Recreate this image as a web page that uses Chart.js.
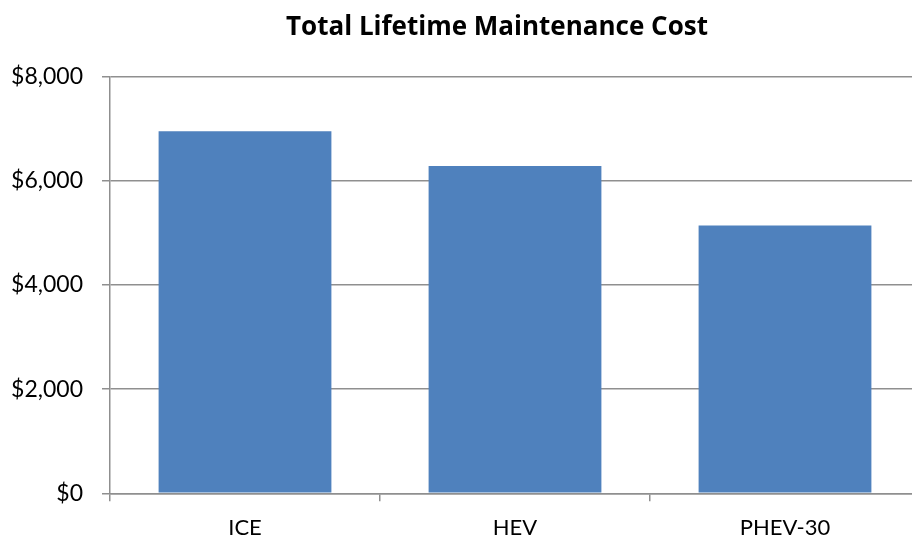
<!DOCTYPE html>
<html>
<head>
<meta charset="utf-8">
<script src="https://cdn.jsdelivr.net/npm/chart.js@4.4.1/dist/chart.umd.min.js"></script>
<style>
html,body{margin:0;padding:0;background:#fff;overflow:hidden;}
#wrap{position:absolute;left:0;top:0;width:994px;height:537px;}
#wrap canvas{display:block;}
</style>
</head>
<body>
<div id="wrap"><canvas id="c"></canvas></div>
<script>
const categories = ["ICE", "HEV", "PHEV-30"];
const maintenanceCost = [6955, 6285, 5145];
const yTickValues = [0, 2000, 4000, 6000, 8000];
const chartTitle = "Total Lifetime Maintenance Cost";

const FONT = "Lato, 'Open Sans', sans-serif";
const TITLE_FONT = "'Open Sans', Lato, sans-serif";
const gridColor = "#8f8f8f";

new Chart(document.getElementById("c"), {
  type: "bar",
  data: {
    labels: categories,
    datasets: [{
      data: maintenanceCost,
      backgroundColor: "#4F81BD",
      borderWidth: 0,
      categoryPercentage: 1.0,
      barPercentage: 0.64
    }]
  },
  options: {
    responsive: true,
    maintainAspectRatio: false,
    animation: false,
    layout: { padding: { left: 74, right: 74, top: 0, bottom: 0 } },
    plugins: {
      legend: { display: false },
      tooltip: { enabled: false },
      title: {
        display: true,
        text: chartTitle,
        color: "#000",
        font: { family: TITLE_FONT, size: 26, weight: "bold" },
        padding: { top: 12.4, bottom: 33.2 }
      }
    },
    scales: {
      x: {
        offset: true,
        afterFit: (s) => { s.height = 43.7; },
        grid: {
          offset: true,
          drawOnChartArea: false,
          drawTicks: true,
          tickLength: 8,
          color: gridColor,
          lineWidth: 1.5
        },
        border: { display: true, color: gridColor, width: 1.5 },
        ticks: {
          color: "#000",
          font: { family: FONT, size: 22, lineHeight: 1.0 },
          padding: 16,
          maxRotation: 0
        }
      },
      y: {
        min: 0,
        max: 8000,
        afterFit: (s) => {
          s.width = 36;
          // let the tick labels extend into the left layout padding
          s._computeLabelArea = () => undefined;
        },
        afterBuildTicks: (s) => { s.ticks = yTickValues.map(v => ({ value: v })); },
        grid: {
          color: gridColor,
          lineWidth: 1.5,
          drawTicks: true,
          tickLength: 8
        },
        border: { display: true, color: gridColor, width: 1.5 },
        ticks: {
          color: "#000",
          font: { family: FONT, size: 23 },
          padding: 19,
          callback: (v) => "$" + Number(v).toLocaleString("en-US")
        }
      }
    }
  }
});
</script>
</body>
</html>
